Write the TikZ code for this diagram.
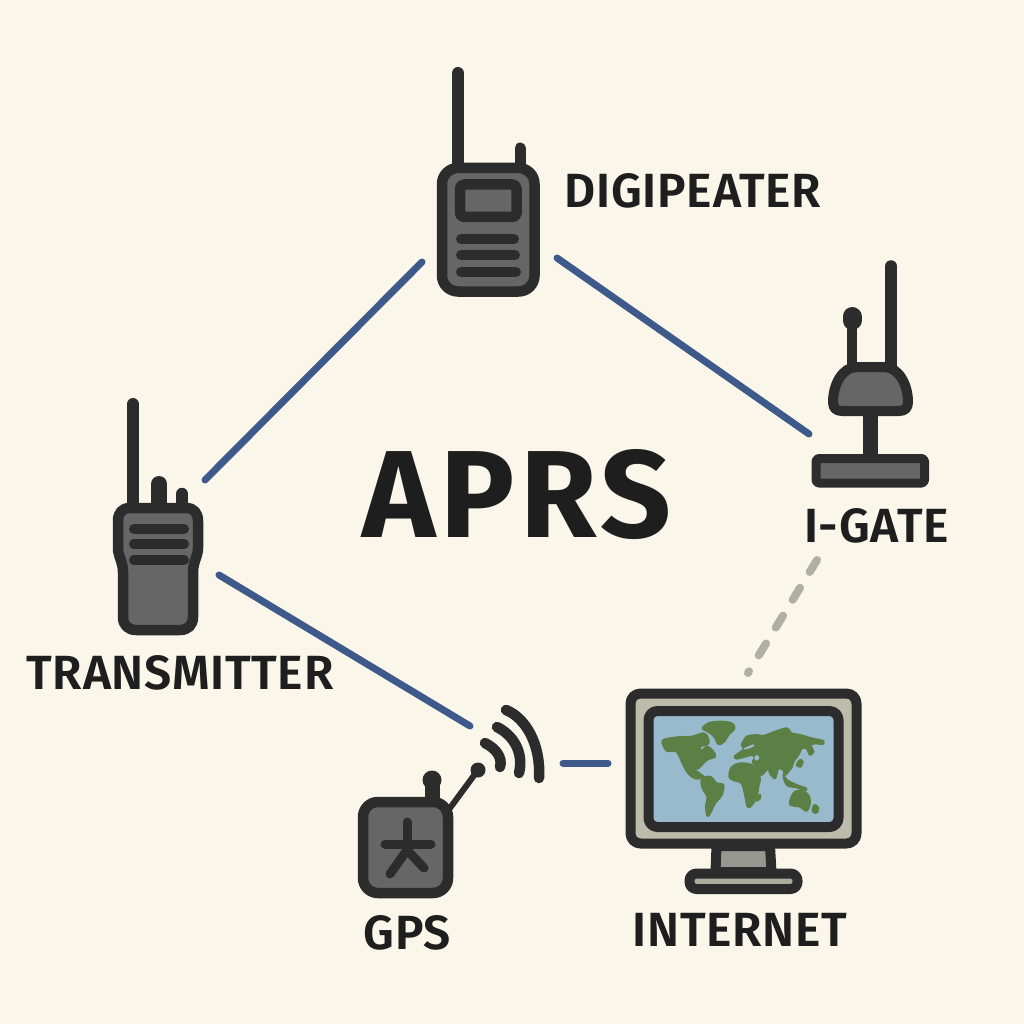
\documentclass[tikz,border=0pt]{standalone}
\usepackage{fontspec}
\setmainfont{Fira Sans}
\newfontfamily\labfont[LetterSpace=1.5]{Fira Sans SemiBold}
\newfontfamily\titlefont[LetterSpace=4]{Fira Sans}
\definecolor{bgc}{HTML}{FAF6EA}
\definecolor{ink}{HTML}{2C2C2C}
\definecolor{txt}{HTML}{1E1E1E}
\definecolor{panel}{HTML}{666666}
\definecolor{link}{HTML}{3D5A8A}
\definecolor{dashc}{HTML}{B0AFA6}
\definecolor{bezel}{HTML}{BDBCAC}
\definecolor{stand}{HTML}{979792}
\definecolor{foot}{HTML}{ADAD9F}
\definecolor{sea}{HTML}{98BACC}
\definecolor{land}{HTML}{5B7F45}
\tikzset{
  shell/.style={draw=ink,line width=10.5pt,fill=panel,rounded corners=#1},
  shell/.default=14pt,
  stick/.style={draw=ink,line cap=round},
  bar/.style={draw=ink,line cap=round,line width=10pt},
  linkline/.style={draw=link,line width=7pt,line cap=round},
  dashline/.style={draw=dashc,line width=8pt,line cap=round,dash pattern=on 14pt off 18.6pt},
  wave/.style={draw=ink,line width=10.5pt,line cap=round},
  lab/.style={text=txt,inner sep=0pt,font=\fontsize{48}{48}\labfont},
  landmass/.style={fill=land,draw=land,line width=2pt},
}
\begin{document}
\begin{tikzpicture}[x=1pt,y=-1pt,line join=round]
\useasboundingbox[fill=bgc] (0,0) rectangle (1024,1024);
% Digipeater
\draw[stick,line width=12pt] (458,73)--(458,170);
\draw[stick,line width=11pt] (520,148)--(520,170);
\draw[shell=16pt] (442,168) rectangle (534.5,291.5) node[pos=.5,inner sep=0pt] (digi) {};
\draw[draw=ink,line width=10.5pt,fill=panel,rounded corners=4pt] (460,184.5) rectangle (516.5,217);
\draw[bar] (461,239)--(514,239);
\draw[bar] (461,255)--(515,255);
\draw[bar] (461,272)--(516,272);
% Transmitter
\draw[stick,line width=12pt] (133,404)--(133,515);
\draw[stick,line width=16pt] (159,484)--(159,515);
\draw[stick,line width=12.5pt] (182,494)--(182,515);
\draw[draw=ink,line width=10.5pt,fill=panel] (130,508) -- (186,508) .. controls (194,508) and (198,513) .. (198,521) -- (198,548) .. controls (198,556) and (193,562) .. (193,572) -- (193,617) .. controls (193,625) and (188,630) .. (180,630) -- (136,630) .. controls (128,630) and (123,625) .. (123,617) -- (123,572) .. controls (123,562) and (118,556) .. (118,548) -- (118,521) .. controls (118,513) and (122,508) .. (130,508) -- cycle;
\node[inner sep=0pt] (tx) at (158,570) {};
\draw[bar] (134,529)--(184,529);
\draw[bar] (134,544)--(184,544);
\draw[bar] (134,560)--(184,560);
% I-Gate
\draw[stick,line width=11.5pt] (891,266)--(891,370);
\draw[stick,line width=9.5pt] (852,320)--(852,370);
\draw[stick,line width=19pt] (852,316.5)--(852,320.5);
\draw[stick,line width=15pt,line cap=butt] (870,410)--(870,458);
\draw[draw=ink,line width=10pt,fill=panel] (842,411) .. controls (836,411) and (833,408) .. (833,402) .. controls (833,385) and (842,367) .. (857,367) -- (884,367) .. controls (899,367) and (908,385) .. (908,402) .. controls (908,408) and (905,411) .. (899,411) -- cycle;
\node[inner sep=0pt] (igate) at (870,420) {};
\draw[draw=ink,line width=9pt,fill=panel,rounded corners=3pt] (816,458.5) rectangle (924.5,483);
% Monitor
\draw[draw=ink,line width=10pt,fill=stand] (716.5,846) -- (770,846) -- (771.5,872) -- (715.5,872) -- cycle;
\draw[draw=ink,line width=10pt,fill=foot,rounded corners=7pt] (689.5,873.5) rectangle (797.5,889);
\draw[draw=ink,line width=10pt,fill=bezel,rounded corners=10pt] (630.5,693.5) rectangle (856.5,843.5);
\draw[draw=ink,line width=10pt,fill=sea,rounded corners=9pt] (648.5,711) rectangle (838.5,827);
\node[inner sep=0pt] (inet) at (743,768) {};
\begin{scope}[shift={(620,680)},scale=0.33333]
\filldraw[landmass] plot[smooth cycle,tension=.6] coordinates {(248,145)(265,130)(300,125)(335,130)(343,145)(325,165)(312,185)(295,192)(283,170)(265,155)};
\filldraw[landmass] plot[smooth cycle,tension=.5] coordinates {(128,182)(170,172)(215,170)(250,160)(262,170)(265,190)(240,200)(245,212)(262,200)(280,215)(285,230)(260,240)(235,265)(222,268)(245,285)(252,293)(225,295)(205,280)(190,255)(170,215)(140,212)};
\filldraw[landmass] plot[smooth cycle,tension=.5] coordinates {(245,298)(270,290)(290,310)(310,315)(305,345)(285,370)(270,400)(262,408)(258,380)(262,350)(248,325)};
\filldraw[landmass] plot[smooth cycle,tension=.6] coordinates {(328,290)(335,262)(360,250)(395,255)(410,275)(420,295)(415,320)(410,350)(395,375)(383,380)(375,345)(365,310)(340,300)};
\filldraw[landmass] plot[smooth cycle,tension=.5] coordinates {(410,350)(420,345)(420,355)(410,362)};
\filldraw[landmass] plot[smooth cycle,tension=.4] coordinates {(365,195)(380,170)(410,165)(430,168)(465,155)(500,145)(515,160)(540,165)(575,175)(610,183)(608,192)(585,190)(572,195)(580,215)(570,225)(560,205)(545,205)(535,225)(520,245)(515,262)(495,285)(490,270)(475,265)(465,295)(450,280)(445,265)(430,280)(422,285)(410,262)(398,245)(405,232)(395,225)(350,236)(345,228)(372,208)};
\fill[sea] plot[smooth cycle,tension=.6] coordinates {(372,205)(400,193)(400,200)(378,208)};
\fill[sea] plot[smooth cycle,tension=.6] coordinates {(403,232)(412,225)(418,235)(408,242)};
\filldraw[landmass] plot[smooth cycle,tension=.5] coordinates {(530,255)(540,240)(548,245)(542,260)};
\filldraw[landmass] plot[smooth cycle,tension=.5] coordinates {(490,285)(500,300)(530,315)(558,325)(555,332)(530,322)(505,318)(495,305)};
\filldraw[landmass] plot[smooth cycle,tension=.6] coordinates {(510,372)(525,335)(560,340)(570,365)(560,392)(540,380)};
\filldraw[landmass] plot[smooth cycle,tension=.6] coordinates {(578,385)(585,375)(595,385)(590,398)(580,396)};
\end{scope}
% GPS
\draw[stick,line width=15pt,line cap=butt] (432,782)--(432,802);
\fill[ink] (432,780) circle (9.5pt);
\draw[stick,line width=6pt] (450,808)--(478,770);
\fill[ink] (478,770) circle (7.5pt);
\draw[shell=15pt] (363,802) rectangle (448,893);
\node[inner sep=0pt] (gps) at (405,847) {};
\draw[stick,line width=9pt] (407,822)--(407,850);
\draw[stick,line width=9pt] (385,844)--(431,844);
\draw[stick,line width=9pt] (407,850)--(390,874);
\draw[stick,line width=9pt] (407,850)--(424,868);
% Radio waves
\draw[wave] (485,743) .. controls (495,748) and (503,757) .. (500,767);
\draw[wave] (497,727) .. controls (513,735) and (524,752) .. (519,773);
\draw[wave] (506,710) .. controls (526,718) and (541,745) .. (539,778);
\coordinate (wavein) at (470,726);
\coordinate (waveout) at (563,763);
\coordinate (inetin) at (608,763);
\coordinate (txup) at (205,480);
\coordinate (txdown) at (219,575);
\coordinate (digileft) at (422,262);
\coordinate (digiright) at (557,258);
\coordinate (igateleft) at (809,434);
\coordinate (igatedown) at (817,560);
\coordinate (inettop) at (748,673);
% Links
\draw[linkline] (txup)--(digileft);
\draw[linkline] (digiright)--(igateleft);
\draw[linkline] (txdown)--(wavein);
\draw[linkline] (waveout)--(inetin);
\draw[dashline] (igatedown)--(inettop);
% Labels
\node[text=txt,inner sep=0pt,font=\fontsize{124}{124}\titlefont\bfseries] (lapr) at (517,495) {APRS};
\node[lab] (ldigi) at (693,190.5) {DIGIPEATER};
\node[lab] (ltx) at (180,672.5) {TRANSMITTER};
\node[lab] (ligate) at (876.5,526) {I-GATE};
\node[lab] (lgps) at (407.5,933) {GPS};
\node[lab] (linet) at (740,929.5) {INTERNET};
\end{tikzpicture}
\end{document}
